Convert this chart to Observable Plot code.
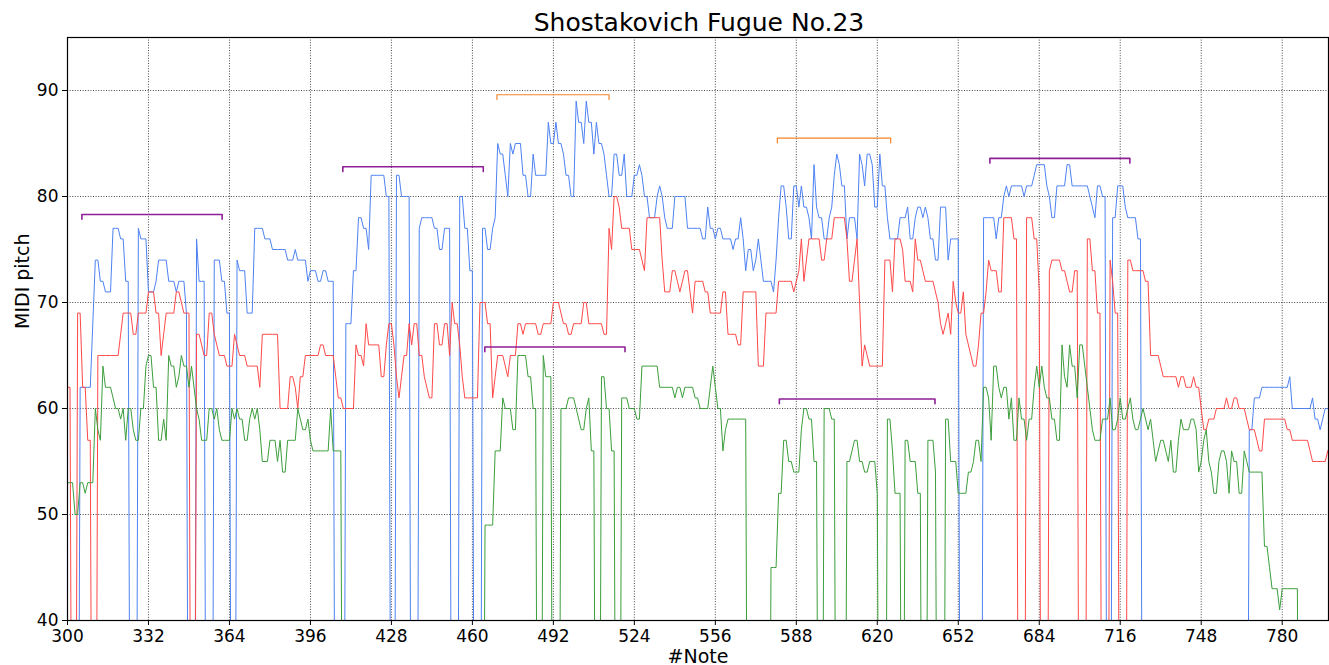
<!DOCTYPE html>
<html><head><meta charset="utf-8">
<script src="https://cdn.jsdelivr.net/npm/d3@7"></script>
<script src="https://cdn.jsdelivr.net/npm/@observablehq/plot@0.6"></script>
<style>
body{margin:0;background:#fff;font-family:"DejaVu Sans",sans-serif;}
#wrap{position:relative;width:1329px;height:665px;}
#title{position:absolute;left:699px;top:10px;transform:translateX(-50%);font-size:25px;line-height:25px;white-space:nowrap;color:#000;}
#chart{position:absolute;left:0;top:0;}
</style></head><body>
<div id="wrap"><div id="chart"></div><div id="title">Shostakovich Fugue No.23</div></div>
<script>
// Each run: [first note index, MIDI pitch]; pitch 0 = rest (drawn below the axis)
const blueRuns = [[300,0],[305,62],[310,68],[311,74],[313,72],[315,71],[318,77],[321,76],[323,72],[325,0],[328,77],[329,76],[332,71],[335,72],[336,74],[340,72],[343,71],[344,72],[347,69],[348,0],[351,76],[352,72],[355,0],[358,74],[361,72],[363,69],[365,0],[367,74],[368,73],[371,69],[374,77],[378,76],[381,75],[387,74],[390,75],[391,74],[395,72],[396,73],[399,72],[401,73],[403,72],[406,0],[410,68],[413,73],[415,78],[417,77],[419,75],[420,82],[426,80],[428,0],[430,82],[432,80],[436,0],[439,77],[440,78],[445,77],[447,75],[449,77],[452,0],[455,80],[457,77],[459,73],[461,0],[464,77],[466,75],[468,77],[469,78],[470,85],[471,84],[473,82],[474,80],[475,85],[476,84],[477,85],[480,82],[482,80],[484,84],[485,82],[490,87],[491,85],[493,87],[494,85],[496,84],[497,82],[499,80],[501,89],[502,87],[504,85],[505,89],[506,87],[508,84],[509,87],[510,85],[512,84],[513,82],[514,80],[516,84],[518,82],[520,84],[521,80],[524,82],[526,83],[527,82],[528,80],[530,78],[533,80],[534,81],[535,80],[536,78],[537,77],[540,80],[545,77],[551,76],[553,79],[554,77],[556,76],[557,77],[559,76],[563,75],[564,76],[566,78],[567,76],[568,73],[569,75],[571,73],[572,74],[573,76],[574,74],[575,72],[579,71],[580,74],[581,78],[582,81],[584,79],[585,76],[587,81],[589,79],[590,81],[591,79],[593,78],[594,76],[595,83],[596,79],[597,78],[599,76],[601,78],[602,79],[603,82],[604,84],[605,83],[606,81],[608,76],[609,78],[612,76],[613,84],[614,83],[615,81],[616,84],[618,83],[619,79],[621,84],[622,81],[624,78],[625,76],[629,78],[632,79],[633,76],[635,78],[636,79],[638,78],[639,79],[640,78],[641,76],[643,74],[645,79],[648,74],[649,76],[653,0],[662,78],[667,76],[668,78],[670,80],[671,81],[672,80],[673,81],[678,80],[679,81],[682,82],[683,83],[687,81],[688,80],[689,78],[691,81],[695,83],[697,81],[704,80],[705,79],[706,78],[707,81],[709,80],[711,0],[713,78],[715,81],[718,79],[719,78],[723,76],[725,0],[767,58],[769,61],[772,62],[783,63],[784,60],[792,61],[793,59],[795,58],[796,59],[797,60]];
const redRuns = [[300,62],[302,0],[304,69],[306,62],[308,57],[310,0],[312,65],[321,67],[322,69],[326,67],[328,69],[332,71],[335,69],[337,65],[338,67],[339,69],[343,71],[345,70],[346,69],[349,0],[351,67],[353,66],[354,65],[356,69],[358,67],[359,66],[360,65],[363,64],[366,67],[367,66],[368,65],[371,64],[376,62],[377,67],[384,60],[388,63],[390,62],[391,60],[392,63],[394,65],[400,66],[402,65],[406,63],[407,61],[409,60],[414,66],[415,65],[417,64],[418,68],[419,66],[424,63],[426,66],[427,68],[429,66],[430,63],[431,61],[432,63],[433,65],[435,68],[436,66],[437,68],[439,65],[441,63],[442,62],[443,61],[445,68],[447,66],[449,68],[451,65],[452,70],[453,68],[455,66],[456,63],[457,61],[463,70],[466,68],[468,61],[469,63],[470,65],[473,64],[474,63],[475,65],[478,68],[480,67],[481,68],[486,67],[488,68],[492,70],[495,69],[496,68],[498,67],[500,68],[504,70],[506,68],[512,67],[514,77],[515,75],[516,80],[518,79],[519,77],[523,75],[527,74],[528,73],[529,78],[535,74],[536,71],[539,73],[541,72],[542,71],[543,72],[544,73],[546,71],[547,69],[548,72],[552,71],[554,69],[559,71],[561,67],[565,66],[567,71],[573,64],[576,69],[581,72],[587,71],[588,72],[589,73],[590,76],[591,72],[592,74],[593,76],[598,74],[600,76],[603,78],[608,76],[609,72],[611,74],[612,76],[613,70],[614,64],[615,66],[616,65],[617,64],[623,74],[626,71],[627,76],[630,75],[631,72],[634,71],[635,76],[636,74],[638,73],[639,72],[643,71],[644,70],[645,68],[646,67],[647,68],[648,69],[649,67],[650,72],[651,70],[652,69],[654,71],[655,67],[656,66],[657,65],[658,64],[660,66],[661,69],[663,71],[664,74],[665,73],[668,71],[670,78],[674,76],[676,0],[679,78],[682,76],[684,71],[685,0],[688,73],[689,74],[693,73],[695,72],[696,71],[698,73],[700,0],[703,76],[705,73],[707,69],[709,0],[712,74],[713,72],[714,69],[716,0],[719,74],[721,73],[726,72],[728,65],[732,64],[733,63],[739,62],[740,63],[742,62],[745,63],[746,62],[748,60],[749,58],[751,59],[754,60],[758,61],[759,60],[761,61],[763,60],[766,59],[767,58],[770,57],[771,56],[773,59],[782,58],[784,57],[791,56],[792,55],[798,56]];
const greenRuns = [[300,53],[303,50],[305,53],[307,52],[308,53],[311,60],[312,58],[313,57],[314,64],[315,62],[318,61],[319,60],[321,59],[322,60],[323,57],[324,60],[326,58],[327,57],[329,60],[331,64],[332,65],[334,62],[336,57],[338,59],[339,57],[340,65],[341,64],[343,62],[344,63],[345,65],[346,64],[348,62],[349,64],[350,62],[351,60],[352,59],[353,57],[356,60],[358,59],[359,60],[360,58],[361,57],[365,60],[366,59],[367,60],[368,59],[370,57],[372,59],[373,60],[374,59],[375,60],[376,58],[377,55],[380,57],[383,55],[384,57],[385,54],[387,57],[391,60],[392,59],[393,58],[395,59],[396,57],[397,56],[404,60],[405,56],[409,0],[465,49],[469,56],[472,61],[473,60],[476,58],[478,65],[482,63],[484,60],[486,0],[488,65],[489,63],[492,0],[495,60],[498,61],[501,60],[502,59],[503,58],[505,60],[506,61],[507,56],[509,0],[511,63],[513,60],[515,56],[517,0],[519,61],[522,60],[525,59],[527,64],[534,62],[540,61],[541,62],[543,61],[544,62],[548,61],[550,60],[554,62],[555,64],[556,62],[557,60],[559,56],[560,58],[561,59],[569,0],[578,45],[581,52],[583,57],[585,55],[587,54],[590,58],[591,60],[593,59],[595,55],[597,0],[599,60],[602,59],[604,0],[608,55],[610,56],[611,57],[613,55],[615,54],[617,55],[620,52],[621,0],[624,59],[626,56],[627,52],[630,0],[631,57],[633,55],[636,52],[638,0],[640,57],[643,54],[644,0],[647,59],[649,55],[652,52],[656,54],[658,55],[659,57],[661,55],[662,62],[664,61],[665,57],[666,64],[668,62],[669,61],[670,62],[672,59],[673,61],[674,57],[676,61],[677,59],[679,57],[680,59],[682,62],[683,64],[684,62],[685,64],[686,62],[687,61],[689,59],[691,57],[693,66],[694,63],[695,62],[696,66],[697,64],[699,61],[700,66],[702,64],[703,62],[704,60],[705,58],[706,57],[709,59],[712,61],[713,58],[715,59],[716,61],[717,59],[719,60],[720,61],[721,59],[722,58],[724,59],[725,60],[726,59],[727,58],[728,59],[729,57],[730,55],[731,56],[732,57],[734,56],[735,55],[736,57],[737,54],[739,57],[740,59],[741,58],[744,59],[746,58],[747,54],[748,55],[749,57],[750,58],[751,55],[752,54],[753,52],[755,55],[756,56],[758,55],[759,52],[760,56],[761,55],[763,52],[765,56],[766,55],[767,54],[773,47],[775,45],[776,43],[779,41],[780,43],[787,0]];
const lastNote = 798;

// Pattern brackets
const bracketStart = [305.7, 408.8, 469.7, 464.9, 580.5, 581.3, 664.5];
const bracketEnd   = [361.1, 464.3, 514.0, 520.3, 625.3, 642.8, 719.8];
const bracketPitch = [78.3, 82.8, 89.6, 65.8, 85.5, 60.9, 83.6];
const bracketKind  = ["A", "A", "B", "A", "B", "A", "A"];

const xTicks = [300,332,364,396,428,460,492,524,556,588,620,652,684,716,748,780];
const yTicks = [40,50,60,70,80,90];

function expand(runs, voice) {
  const out = [];
  runs.forEach(([s, v], i) => {
    const e = i + 1 < runs.length ? runs[i + 1][0] - 1 : lastNote;
    for (let n = s; n <= e; n++) out.push({note: n, pitch: v, voice});
  });
  return out;
}
const series = [
  ...expand(blueRuns, "upper"),
  ...expand(redRuns, "middle"),
  ...expand(greenRuns, "lower")
];
const voiceColor = {upper: "#4d82f3", middle: "#ff4848", lower: "#3c9e3c"};
const kindColor = {A: "#8e1f96", B: "#f5842a"};
const tick = 0.45;
const bracketPts = [];
bracketStart.forEach((s, i) => {
  const e = bracketEnd[i], p = bracketPitch[i], k = bracketKind[i];
  bracketPts.push({id: i, kind: k, note: s, pitch: p - tick});
  bracketPts.push({id: i, kind: k, note: s, pitch: p});
  bracketPts.push({id: i, kind: k, note: e, pitch: p});
  bracketPts.push({id: i, kind: k, note: e, pitch: p - tick});
});

const font = "DejaVu Sans";
const plot = Plot.plot({
  width: 1329, height: 665,
  marginLeft: 67, marginRight: 1, marginTop: 37, marginBottom: 45,
  style: {fontFamily: font, background: "white", color: "black"},
  x: {domain: [300, 798.3]},
  y: {domain: [40, 95]},
  marks: [
    Plot.gridX(xTicks, {stroke: "black", strokeOpacity: 0.9, strokeWidth: 0.8, strokeDasharray: "1,1.6"}),
    Plot.gridY(yTicks, {stroke: "black", strokeOpacity: 0.9, strokeWidth: 0.8, strokeDasharray: "1,1.6"}),
    ["upper", "middle", "lower"].map(v =>
      Plot.line(series.filter(d => d.voice === v), {x: "note", y: "pitch", stroke: voiceColor[v], strokeWidth: 1, clip: true})
    ),
    ["A", "B"].map(k =>
      Plot.line(bracketPts.filter(d => d.kind === k), {x: "note", y: "pitch", z: "id", stroke: kindColor[k], strokeWidth: k === "A" ? 1.6 : 1.2})
    ),
    Plot.frame({stroke: "black", strokeWidth: 1.2}),
    Plot.axisX(xTicks, {tickSize: 5, tickPadding: 4, fontSize: 17, label: null, tickFormat: d => String(d)}),
    Plot.axisY(yTicks, {tickSize: 5, tickPadding: 4, fontSize: 17, label: null}),
    Plot.text(["MIDI pitch"], {frameAnchor: "left", dx: -45, rotate: -90, fontSize: 19, fill: "black"}),
    Plot.text(["#Note"], {frameAnchor: "bottom", dy: 42, lineAnchor: "bottom", fontSize: 19, fill: "black"})
  ]
});
document.getElementById("chart").appendChild(plot);
</script>
</body></html>
